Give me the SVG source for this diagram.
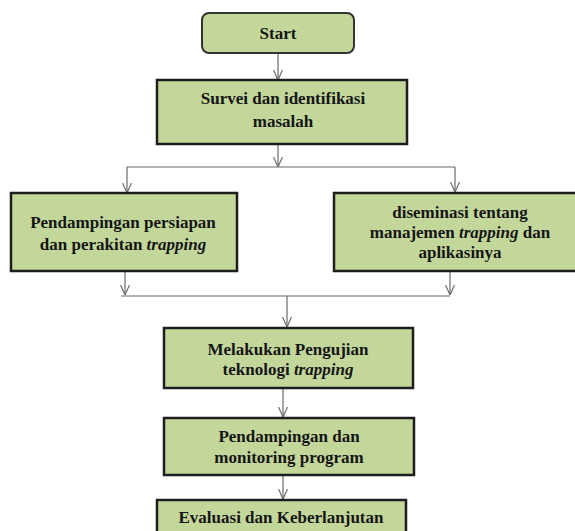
<svg xmlns="http://www.w3.org/2000/svg" width="575" height="531" viewBox="0 0 575 531">
<style>
.box{fill:#c4d79b;stroke:#1e1e1e;stroke-width:2.5}
.t{font-family:'Liberation Serif','Times New Roman',serif;font-weight:700;font-size:17px;fill:#151515;text-anchor:middle}
.i{font-style:italic}
.c{stroke:#6b6b6b;stroke-width:1.2;fill:none}
.a{marker-end:url(#arr)}
</style>
<defs>
<marker id="arr" viewBox="0 0 10 10" refX="10" refY="5" markerWidth="10" markerHeight="10" markerUnits="userSpaceOnUse" orient="auto">
<path d="M0,0.5 L10,5 L0,9.5" fill="none" stroke="#6b6b6b" stroke-width="1.2"/>
</marker>
</defs>
<rect width="575" height="531" fill="#ffffff"/>
<g id="connectors">
<line class="c a" x1="278" y1="53" x2="278" y2="80"/>
<line class="c a" x1="278" y1="144" x2="278" y2="167"/>
<line class="c" x1="127" y1="167" x2="455" y2="167"/>
<line class="c a" x1="127" y1="167" x2="127" y2="193"/>
<line class="c a" x1="455" y1="167" x2="455" y2="192"/>
<line class="c a" x1="125" y1="271" x2="125" y2="295"/>
<line class="c a" x1="450" y1="271" x2="450" y2="295"/>
<line class="c" x1="121" y1="296" x2="450" y2="296"/>
<line class="c a" x1="287" y1="296" x2="287" y2="327"/>
<line class="c a" x1="283" y1="388" x2="283" y2="417"/>
<line class="c a" x1="283" y1="475" x2="283" y2="499"/>
</g>
<g id="start">
<rect x="202" y="13" width="152" height="40" rx="7" ry="7" fill="#c4d79b" stroke="#333" stroke-width="2"/>
<text class="t" x="278" y="39">Start</text>
</g>
<g id="survei">
<rect class="box" x="157" y="80" width="250" height="64"/>
<text class="t" x="283" y="104">Survei dan identifikasi</text>
<text class="t" x="283" y="127">masalah</text>
</g>
<g id="persiapan">
<rect class="box" x="11" y="193" width="226" height="78"/>
<text class="t" x="123" y="228">Pendampingan persiapan</text>
<text class="t" x="123" y="250">dan perakitan <tspan class="i">trapping</tspan></text>
</g>
<g id="diseminasi">
<rect class="box" x="334" y="193" width="250" height="78"/>
<text class="t" x="460" y="218">diseminasi tentang</text>
<text class="t" x="460" y="238">manajemen <tspan class="i">trapping</tspan> dan</text>
<text class="t" x="460" y="258">aplikasinya</text>
</g>
<g id="pengujian">
<rect class="box" x="164" y="328" width="249" height="60"/>
<text class="t" x="288" y="355">Melakukan Pengujian</text>
<text class="t" x="288" y="375">teknologi <tspan class="i">trapping</tspan></text>
</g>
<g id="monitoring">
<rect class="box" x="164" y="418" width="250" height="57"/>
<text class="t" x="289" y="442">Pendampingan dan</text>
<text class="t" x="289" y="463">monitoring program</text>
</g>
<g id="evaluasi">
<rect class="box" x="157" y="500" width="249" height="45"/>
<text class="t" x="281" y="523">Evaluasi dan Keberlanjutan</text>
</g>
</svg>
